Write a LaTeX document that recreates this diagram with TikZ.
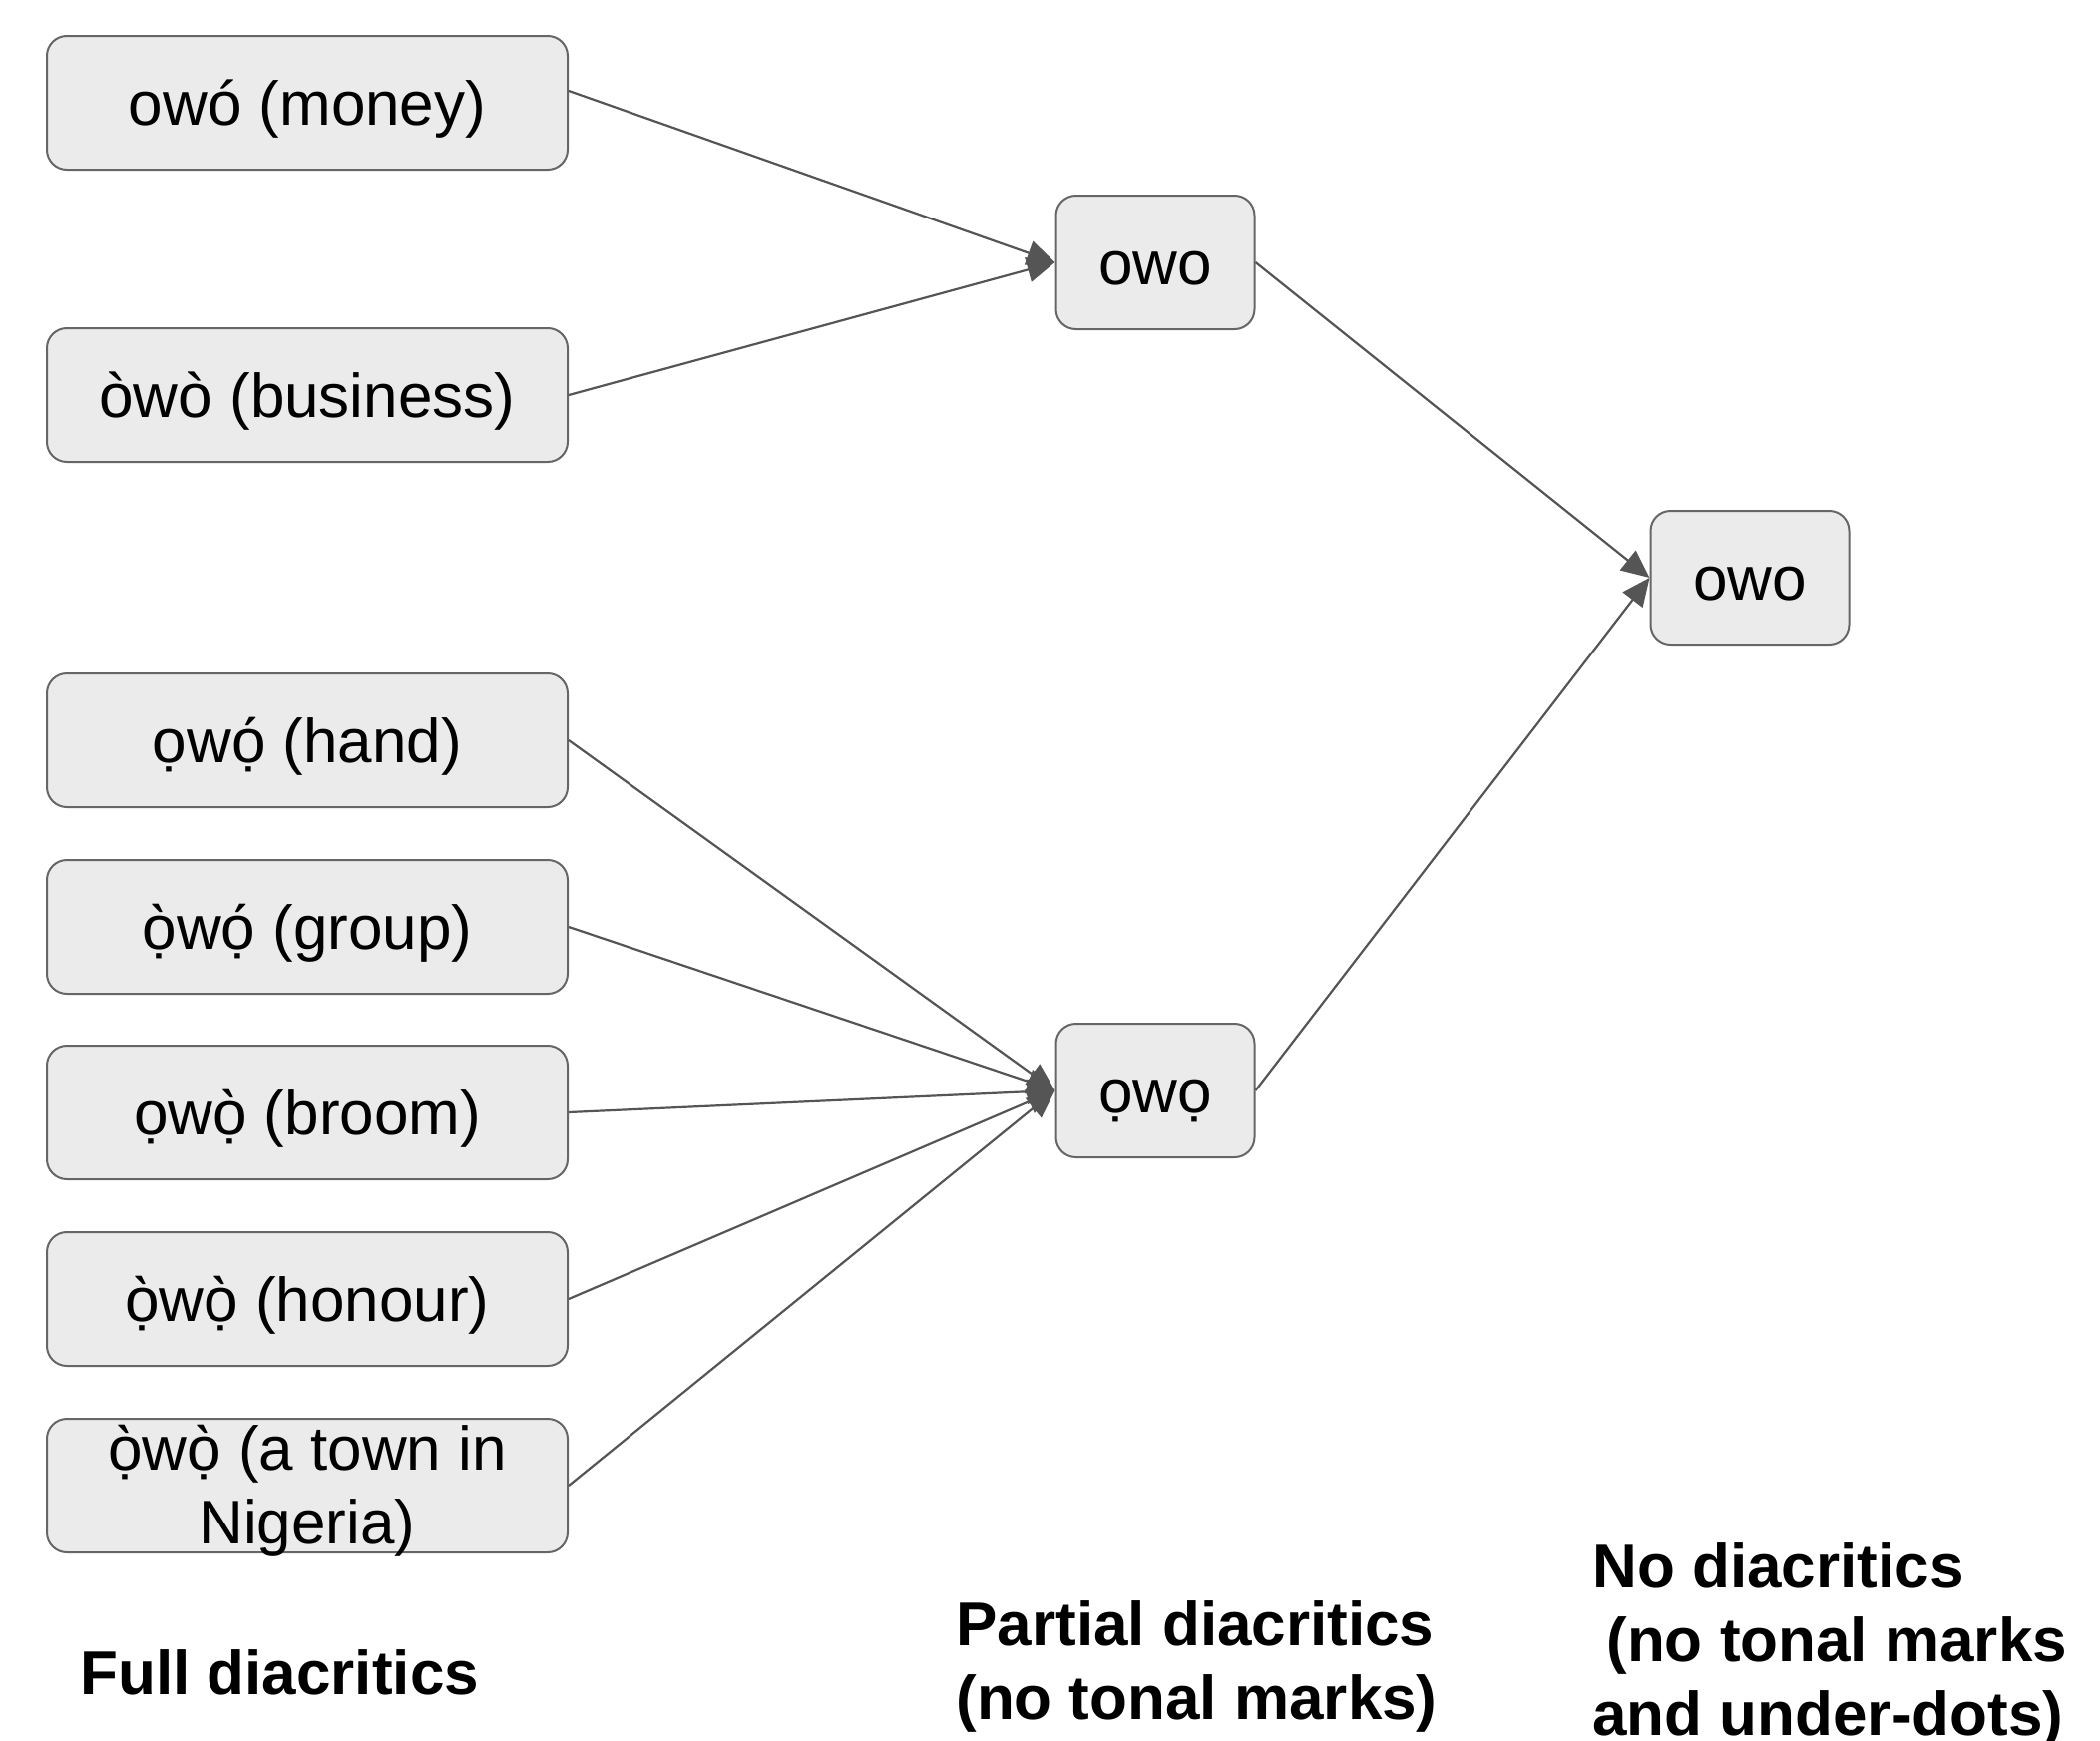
\documentclass[tikz,border=0pt]{standalone}
\usepackage{fontspec}
\setmainfont{Liberation Sans}
\usetikzlibrary{arrows.meta}
\definecolor{boxfill}{HTML}{EBEBEB}
\definecolor{boxline}{HTML}{666666}
\definecolor{arr}{HTML}{555555}
\begin{document}
\begin{tikzpicture}[x=0.5pt,y=-0.5pt,
  boxbase/.style={draw=boxline,fill=boxfill,line width=1pt,rounded corners=10pt,
    minimum width=261pt,minimum height=67pt,inner sep=0pt,
    font=\fontsize{31}{37}\selectfont},
  wordbox/.style={boxbase,text height=30pt,text depth=8pt},
  midbox/.style={wordbox,minimum width=99.5pt},
  conn/.style={draw=arr,line width=1.1pt,-{Triangle[length=14pt,width=12.5pt]}},
  lbl/.style={inner sep=0pt,anchor=base west,font=\fontsize{31}{37}\selectfont\bfseries}]
\useasboundingbox (0,0) rectangle (2105,1745);
\node[wordbox] (m1) at (308,103) {owó (money)};
\node[wordbox] (m2) at (308,396) {òwò (business)};
\node[wordbox] (m3) at (308,742) {ọwọ́ (hand)};
\node[wordbox] (m4) at (308,929) {ọ̀wọ́ (group)};
\node[wordbox] (m5) at (308,1115) {ọwọ̀ (broom)};
\node[wordbox] (m6) at (308,1302) {ọ̀wọ̀ (honour)};
\node[boxbase] (m7) at (308,1489) {\raisebox{0pt}[58pt][0pt]{\begin{tabular}[b]{@{}c@{}}ọ̀wọ̀ (a town in\\Nigeria)\end{tabular}}};
\node[midbox] (p1) at (1158,263) {owo};
\node[midbox] (p2) at (1158,1093) {ọwọ};
\node[midbox] (n1) at (1754,579) {owo};
\draw[conn] ([yshift=6pt]m1.east) -- (p1.west);
\draw[conn] (m2.east) -- (p1.west);
\draw[conn] (m3.east) -- (p2.west);
\draw[conn] (m4.east) -- (p2.west);
\draw[conn] (m5.east) -- (p2.west);
\draw[conn] (m6.east) -- (p2.west);
\draw[conn] (m7.east) -- (p2.west);
\draw[conn] (p1.east) -- (n1.west);
\draw[conn] (p2.east) -- (n1.west);
\node[lbl] (l1) at (80,1698) {Full diacritics};
\node[lbl] (l2) at (958,1649) {\begin{tabular}[t]{@{}l@{}}Partial diacritics\\(no tonal marks)\end{tabular}};
\node[lbl] (l3) at (1596,1591) {\begin{tabular}[t]{@{}l@{}}No diacritics\\\hspace*{7pt}(no tonal marks\\and under-dots)\end{tabular}};
\end{tikzpicture}
\end{document}
